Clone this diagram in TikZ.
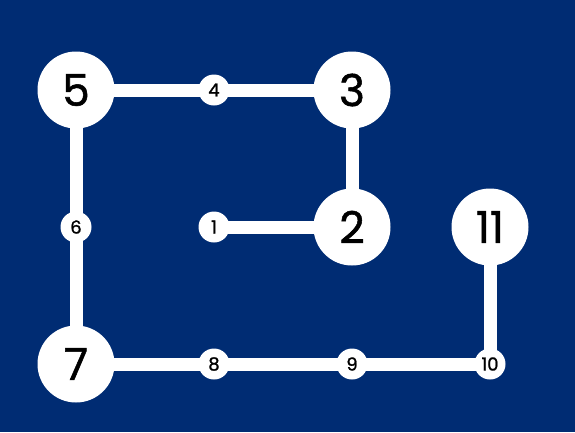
\documentclass[tikz,border=0pt]{standalone}
\usepackage{fontspec}
\setmainfont{Poppins}
\newfontfamily\numfont{Poppins}[FakeBold=1.2]
\definecolor{bg}{HTML}{002C73}
\tikzset{
  big/.style={circle,fill=white,minimum size=77pt,inner sep=0pt,font=\numfont\fontsize{44}{44}\selectfont,text=black},
  small/.style={circle,fill=white,minimum size=31pt,inner sep=0pt,font=\numfont\fontsize{18}{18}\selectfont,text=black},
  link/.style={white,line width=13pt}
}
\begin{document}
\begin{tikzpicture}[x=1pt,y=-1pt]
\fill[bg] (0,0) rectangle (575,432);
\useasboundingbox (0,0) rectangle (575,432);
\coordinate (c5) at (76,90);
\coordinate (c4) at (214,90);
\coordinate (c3) at (352,90);
\coordinate (c1) at (214,227);
\coordinate (c2) at (352,227);
\coordinate (c6) at (76,227);
\coordinate (c11) at (490,227);
\coordinate (c7) at (76,364);
\coordinate (c8) at (214,364);
\coordinate (c9) at (352,364);
\coordinate (c10) at (490,364);
\draw[link] (c1) -- (c2) -- (c3) -- (c4) -- (c5) -- (c6) -- (c7) -- (c8) -- (c9) -- (c10) -- (c11);
\node[big] (n5) at (c5) {5};
\node[big] (n3) at (c3) {3};
\node[big] (n2) at (c2) {2};
\node[big] (n11) at (c11) {11};
\node[big] (n7) at (c7) {7};
\node[small] (n4) at (c4) {4};
\node[small] (n1) at (c1) {1};
\node[small] (n6) at (c6) {6};
\node[small] (n8) at (c8) {8};
\node[small] (n9) at (c9) {9};
\node[small] (n10) at (c10) {10};
\end{tikzpicture}
\end{document}
